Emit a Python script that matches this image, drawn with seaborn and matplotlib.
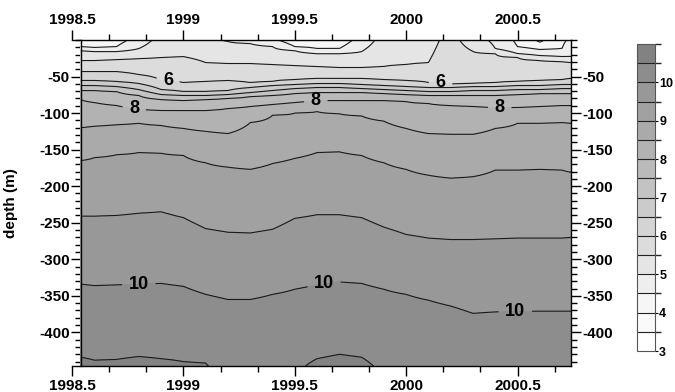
import numpy as np
import matplotlib
matplotlib.use("Agg")
import matplotlib.pyplot as plt
import seaborn as sns
from matplotlib.colors import ListedColormap, BoundaryNorm
from matplotlib.ticker import FixedLocator, FixedFormatter, MultipleLocator

nan = np.nan

# ---------------- data ----------------
times = [1998.54, 1998.6, 1998.7, 1998.8, 1998.9, 1999.0, 1999.1, 1999.2,
         1999.3, 1999.4, 1999.5, 1999.6, 1999.7, 1999.8, 1999.9, 2000.0,
         2000.1, 2000.2, 2000.3, 2000.4, 2000.5, 2000.6, 2000.7, 2000.74]

surface_temp = [4.2, 4.2, 4.3, 4.7, 5.2, 5.2, 5.2, 4.9, 4.7, 4.6, 4.2, 4.1,
                4.2, 4.7, 5.2, 5.2, 5.3, 5.7, 5.2, 4.9, 4.4, 3.9, 4.4, 4.6]

# depth (m) of each isotherm at each time (nan = isotherm absent)
iso_4_0 = [nan] * 21 + [3.0, nan, nan]
iso_4_5 = [9.0, 10.4, 9.0, nan, nan, nan, nan, nan, nan, nan, 9.0, 11.7,
           11.7, nan, nan, nan, nan, nan, nan, nan, 9.0, 13.0, 11.7, nan]
iso_5_0 = [14.5, 15.8, 15.8, 11.7, nan, nan, nan, 2.0, 4.9, 9.0, 14.5, 18.6,
           18.6, 15.8, nan, nan, nan, nan, nan, 11.7, 18.6, 21.3, 22.7, 22.7]
iso_5_5 = [28.1, 28.1, 26.8, 25.4, 24.0, 22.7, 30.9, 32.2, 32.2, 33.6, 35.0, 36.3,
           37.7, 37.7, 36.3, 33.6, 30.9, nan, 15.6, 18.6, 24.0, 28.1, 29.5, 30.9]
iso_6_0 = [43.2, 43.2, 43.2, 47.3, 55.5, 58.2, 56.8, 55.5, 58.2, 56.8, 54.1, 52.7,
           52.7, 52.7, 54.1, 55.5, 58.2, 60.9, 59.6, 58.2, 56.8, 55.5, 54.1, 52.7]
iso_6_5 = [55.5, 55.5, 56.8, 59.6, 67.8, 70.5, 70.5, 69.1, 65.0, 62.3, 60.9, 59.6,
           59.6, 60.9, 62.3, 63.7, 65.0, 65.0, 63.7, 63.7, 62.3, 62.3, 60.9, 60.9]
iso_7_0 = [62.3, 62.3, 63.7, 67.8, 74.6, 75.9, 75.9, 74.6, 71.9, 69.1, 66.4, 65.0,
           65.0, 66.4, 67.8, 69.1, 70.5, 70.5, 69.1, 69.1, 67.8, 67.8, 66.4, 66.4]
iso_7_5 = [69.1, 69.1, 70.5, 75.9, 81.4, 82.8, 81.4, 80.0, 77.3, 75.9, 73.2, 71.9,
           71.9, 71.9, 73.2, 74.6, 75.9, 75.9, 75.9, 75.9, 74.6, 73.2, 73.2, 73.2]
iso_8_0 = [81.4, 85.5, 89.6, 95.1, 96.4, 96.4, 96.4, 93.7, 91.0, 88.2, 85.5, 82.8,
           82.8, 82.8, 82.8, 84.1, 86.9, 89.6, 91.0, 92.3, 92.3, 91.0, 89.6, 89.6]
iso_8_5 = [120, 118, 116, 114, 117, 121, 125, 128, 113, 103, 100, 98,
           101, 104, 111, 121, 128, 129, 129, 121, 114, 114, 113, 114]
iso_9_0 = [165, 161, 157, 154, 155, 158, 168, 174, 177, 169, 162, 154,
           153, 158, 168, 177, 185, 189, 187, 178, 178, 177, 178, 181]
iso_9_5 = [241, 241, 240, 237, 235, 243, 258, 263, 264, 259, 244, 239,
           239, 243, 256, 266, 271, 273, 273, 272, 271, 271, 271, 270]
iso_10_0 = [334, 336, 335, 334, 333, 337, 348, 355, 355, 348, 341, 335,
            331, 333, 341, 348, 356, 364, 374, 372, 371, 371, 371, 371]
iso_10_5 = [434, 438, 437, 433, 436, 440, 442, nan, nan, nan, nan, 436,
            430, 434, nan, nan, nan, nan, nan, nan, nan, nan, nan, nan]

bottom_depth = 450.0
bottom_temp = [10.6, 10.6, 10.6, 10.6, 10.6, 10.55, 10.52, 10.45, 10.45, 10.45, 10.45, 10.6,
               10.6, 10.6, 10.45, 10.45, 10.45, 10.45, 10.45, 10.45, 10.45, 10.45, 10.45, 10.45]

iso_levels = [4.0, 4.5, 5.0, 5.5, 6.0, 6.5, 7.0, 7.5, 8.0, 8.5, 9.0, 9.5, 10.0, 10.5]
iso_depths = [iso_4_0, iso_4_5, iso_5_0, iso_5_5, iso_6_0, iso_6_5, iso_7_0,
              iso_7_5, iso_8_0, iso_8_5, iso_9_0, iso_9_5, iso_10_0, iso_10_5]

x_ticks = [1998.5, 1999.0, 1999.5, 2000.0, 2000.5]
x_tick_labels = ["1998.5", "1999", "1999.5", "2000", "2000.5"]
y_ticks = [-400, -350, -300, -250, -200, -150, -100, -50]
cbar_ticks = [3, 4, 5, 6, 7, 8, 9, 10]
labelled_levels = [6, 8, 10]
label_positions = [(1998.93, -58), (2000.155, -57),
                   (1998.78, -92), (1999.594, -82), (2000.42, -92),
                   (1998.80, -334), (1999.63, -330), (2000.49, -371)]

# ---------------- build the field ----------------
z = np.linspace(0, bottom_depth, 451)
T = np.empty((len(z), len(times)))
for j in range(len(times)):
    d = [0.0]
    v = [surface_temp[j]]
    for lev, arr in zip(iso_levels, iso_depths):
        if not np.isnan(arr[j]):
            d.append(arr[j])
            v.append(lev)
    d.append(bottom_depth)
    v.append(bottom_temp[j])
    order = np.argsort(d)
    T[:, j] = np.interp(z, np.array(d)[order], np.array(v)[order])

# ---------------- style ----------------
sns.set_theme(style="ticks")
plt.rcParams['font.family'] = ['Liberation Sans', 'DejaVu Sans']
plt.rcParams['font.weight'] = 'bold'
plt.rcParams['axes.unicode_minus'] = False

levels = np.arange(3.0, 11.01, 0.5)
grays = [255, 250, 246, 238, 229, 220, 212, 203, 195, 186, 178, 170, 161, 152, 141, 130]
cmap = ListedColormap([(g / 255, g / 255, g / 255) for g in grays])
norm = BoundaryNorm(levels, cmap.N)

fig = plt.figure(figsize=(6.75, 3.92), dpi=100)
ax = fig.add_axes([72 / 675, 1 - 366 / 392, (571 - 72) / 675, (366 - 40) / 392])

cf = ax.contourf(times, -z, T, levels=levels, cmap=cmap, norm=norm)
plain_levels = [l for l in levels if l not in labelled_levels]
ax.contour(times, -z, T, levels=plain_levels, colors='k', linewidths=0.8)
cs = ax.contour(times, -z, T, levels=labelled_levels, colors='k', linewidths=0.8)
txts = ax.clabel(cs, fmt='%d', manual=label_positions, inline=True,
                 fontsize=13, inline_spacing=7)
for t in txts:
    t.set_fontweight('bold')
    t.set_rotation(0)
    t.set_color('black')

ax.set_xlim(1998.5, 2000.74)
ax.set_ylim(-446, 0)
ax.spines['left'].set_position(('data', times[0]))
for s in ax.spines.values():
    s.set_color('black')
    s.set_linewidth(1.0)

ax.xaxis.set_major_locator(FixedLocator(x_ticks))
ax.xaxis.set_major_formatter(FixedFormatter(x_tick_labels))
ax.xaxis.set_minor_locator(MultipleLocator(1 / 6))
ax.yaxis.set_major_locator(FixedLocator(y_ticks))
ax.yaxis.set_major_formatter(FixedFormatter([str(v) for v in y_ticks]))
ax.yaxis.set_minor_locator(MultipleLocator(10))

ax.tick_params(axis='x', which='both', direction='out', top=True, bottom=True,
               labeltop=True, labelbottom=True, colors='black', labelsize=11, pad=2)
ax.tick_params(axis='y', which='both', direction='out', left=True, right=True,
               labelleft=True, labelright=True, colors='black', labelsize=11, pad=1)
ax.tick_params(which='major', length=7, width=1)
ax.tick_params(which='minor', length=4, width=1)
for lab in ax.get_xticklabels() + ax.get_yticklabels():
    lab.set_fontweight('bold')

ax.set_ylabel("depth (m)", fontsize=11, fontweight='bold', color='black')
ax.yaxis.set_label_coords(-0.108, 0.5)

cax = fig.add_axes([637 / 675, 1 - 351 / 392, 18 / 675, (351 - 44) / 392])
cb = fig.colorbar(cf, cax=cax, ticks=cbar_ticks, drawedges=True)
cb.outline.set_edgecolor('#555555')
cb.outline.set_linewidth(0.8)
cb.dividers.set_color('#222222')
cb.dividers.set_linewidth(0.8)
cax.tick_params(length=2, width=0.8, labelsize=9, pad=1, colors='black')
for lab in cax.get_yticklabels():
    lab.set_fontweight('bold')

fig.savefig("out.png", dpi=100)
